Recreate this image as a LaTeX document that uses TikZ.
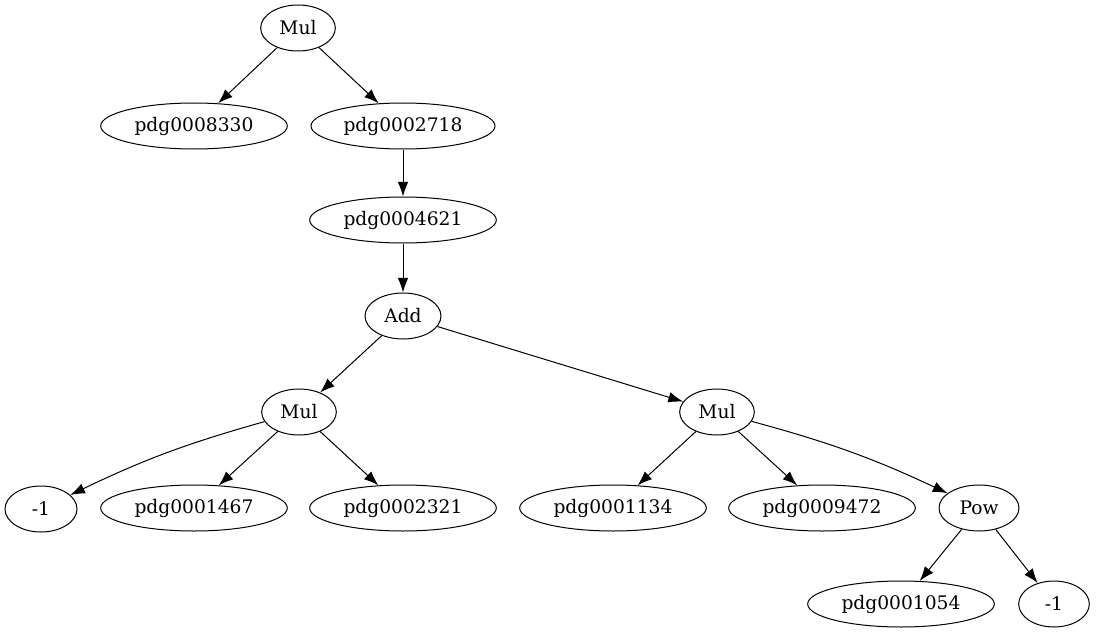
\documentclass[tikz,border=0pt]{standalone}
\usepackage{fontspec}
\setmainfont{DejaVu Serif}
\usetikzlibrary{shapes.geometric,arrows.meta}
\tikzset{
  nd/.style={draw, ellipse, line width=0.75pt, inner sep=0pt, minimum height=34.5pt, font=\fontsize{14}{16}\selectfont},
  sm/.style={nd, minimum width=56pt},
  lg/.style={nd, minimum width=140pt},
  ed/.style={line width=0.75pt, -{Latex[length=11pt,width=8pt]}},
}
\begin{document}
\begin{tikzpicture}[x=0.75pt,y=-0.75pt]
\useasboundingbox (0,0) rectangle (1096,635);
\node[sm] (m1) at (298,28) {Mul};
\node[lg] (a) at (194,126) {pdg0008330};
\node[lg, minimum width=138pt] (b) at (403,126) {pdg0002718};
\node[lg] (c) at (403,220) {pdg0004621};
\node[sm, minimum width=57pt] (add) at (403,316) {Add};
\node[sm] (m2) at (299,412) {Mul};
\node[sm] (m3) at (717,412) {Mul};
\node[sm, minimum width=54pt] (n1) at (41,509) {-1};
\node[lg] (d) at (194,508) {pdg0001467};
\node[lg] (e) at (403,508) {pdg0002321};
\node[lg] (f) at (613,508) {pdg0001134};
\node[lg] (g) at (822,508) {pdg0009472};
\node[sm, minimum width=60pt] (pow) at (979,508) {Pow};
\node[lg] (h) at (901,604) {pdg0001054};
\node[sm, minimum width=53pt] (n2) at (1054,604) {-1};
\draw[ed] (m1) -- (a);
\draw[ed] (m1) -- (b);
\draw[ed] (b) -- (c);
\draw[ed] (c) -- (add);
\draw[ed] (add) -- (m2);
\draw[ed] (add) -- (m3);
\draw[ed] (m2) to[bend right=5] (n1);
\draw[ed] (m2) -- (d);
\draw[ed] (m2) -- (e);
\draw[ed] (m3) -- (f);
\draw[ed] (m3) -- (g);
\draw[ed] (m3) to[bend left=5] (pow);
\draw[ed] (pow) -- (h);
\draw[ed] (pow) -- (n2);
\end{tikzpicture}
\end{document}
